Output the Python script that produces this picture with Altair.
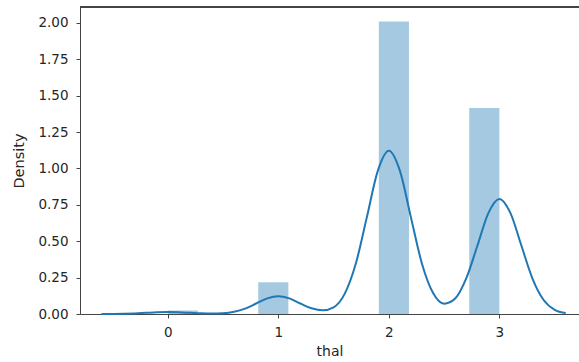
import altair as alt
import pandas as pd

# Histogram (density-normalised), 11 bins over [0, 3]
bin_start = [0.0, 0.2727, 0.5455, 0.8182, 1.0909, 1.3636, 1.6364, 1.9091, 2.1818, 2.4545, 2.7273]
bin_end = [0.2727, 0.5455, 0.8182, 1.0909, 1.3636, 1.6364, 1.9091, 2.1818, 2.4545, 2.7273, 3.0]
bin_density = [0.024, 0.0, 0.0, 0.218, 0.0, 0.0, 0.0, 2.009, 0.0, 0.0, 1.416]

# KDE curve
kde_x = [-0.6, -0.5, -0.4, -0.3, -0.2, -0.1, 0.0, 0.1, 0.2, 0.3, 0.4, 0.5, 0.6, 0.7, 0.8, 0.9,
         1.0, 1.1, 1.2, 1.3, 1.4, 1.5, 1.6, 1.7, 1.8, 1.9, 2.0, 2.1, 2.2, 2.3, 2.4, 2.5, 2.6,
         2.7, 2.8, 2.9, 3.0, 3.1, 3.2, 3.3, 3.4, 3.5, 3.6]
kde_y = [0.000, 0.0005, 0.0016, 0.0041, 0.008, 0.0118, 0.0135, 0.0118, 0.008, 0.0043, 0.0027,
         0.005, 0.015, 0.037, 0.072, 0.107, 0.1215, 0.107, 0.072, 0.039, 0.025, 0.046, 0.138,
         0.343, 0.662, 0.983, 1.121, 0.983, 0.662, 0.344, 0.144, 0.071, 0.106, 0.244, 0.467,
         0.693, 0.790, 0.693, 0.467, 0.242, 0.096, 0.029, 0.007]

x_ticks = [0, 1, 2, 3]
y_ticks = [0, 0.25, 0.5, 0.75, 1.0, 1.25, 1.5, 1.75, 2.0]

hist_df = pd.DataFrame({"start": bin_start, "end": bin_end, "density": bin_density})
kde_df = pd.DataFrame({"x": kde_x, "y": kde_y})

W, H = 499, 307
FONT = "DejaVu Sans"
AX = "#444444"
TXT = "#262626"

xscale = alt.Scale(domain=[-0.794, 3.72], nice=False, zero=False, clamp=False)
yscale = alt.Scale(domain=[0, 2.109], nice=False, zero=True)

xaxis = alt.Axis(values=x_ticks, format="d", title="thal", grid=False,
                 domainColor=AX, tickColor=AX, tickSize=4, labelPadding=7,
                 labelFont=FONT, labelFontSize=13.5, labelColor=TXT,
                 labelOverlap=False, labelFlush=False,
                 titleFont=FONT, titleFontSize=14, titleFontWeight="normal", titleColor=TXT,
                 titleY=41, titleBaseline="alphabetic")
yaxis = alt.Axis(values=y_ticks, format=".2f", title="Density", grid=False,
                 domainColor=AX, tickColor=AX, tickSize=4, labelPadding=8,
                 labelFont=FONT, labelFontSize=13.5, labelColor=TXT,
                 labelOverlap=False, labelFlush=False,
                 titleFont=FONT, titleFontSize=14.5, titleFontWeight="normal", titleColor=TXT,
                 titleAngle=270, titleX=-61, titleY=H / 2, titleBaseline="middle",
                 titleAlign="center")

bars = alt.Chart(hist_df).mark_rect(color="#1f77b4", opacity=0.4).encode(
    x=alt.X("start:Q", scale=xscale, axis=xaxis),
    x2="end:Q",
    y=alt.Y("density:Q", scale=yscale, axis=yaxis),
    y2=alt.datum(0),
)

line = alt.Chart(kde_df).mark_line(color="#1f77b4", strokeWidth=2, interpolate="monotone").encode(
    x=alt.X("x:Q", scale=xscale, axis=xaxis),
    y=alt.Y("y:Q", scale=yscale, axis=yaxis),
)

top = alt.Chart(hist_df).mark_rule(color=AX, strokeWidth=1).encode(
    x=alt.value(0), x2=alt.value(W), y=alt.value(0)
)

chart = alt.layer(bars, line, top).properties(
    width=W, height=H,
    autosize=alt.AutoSizeParams(type="none"),
    padding={"left": 80, "top": 7, "right": 0, "bottom": 48},
    background="white",
).configure_view(stroke=None)

chart.save("out.html", embed_options={"renderer": "svg", "actions": False})
